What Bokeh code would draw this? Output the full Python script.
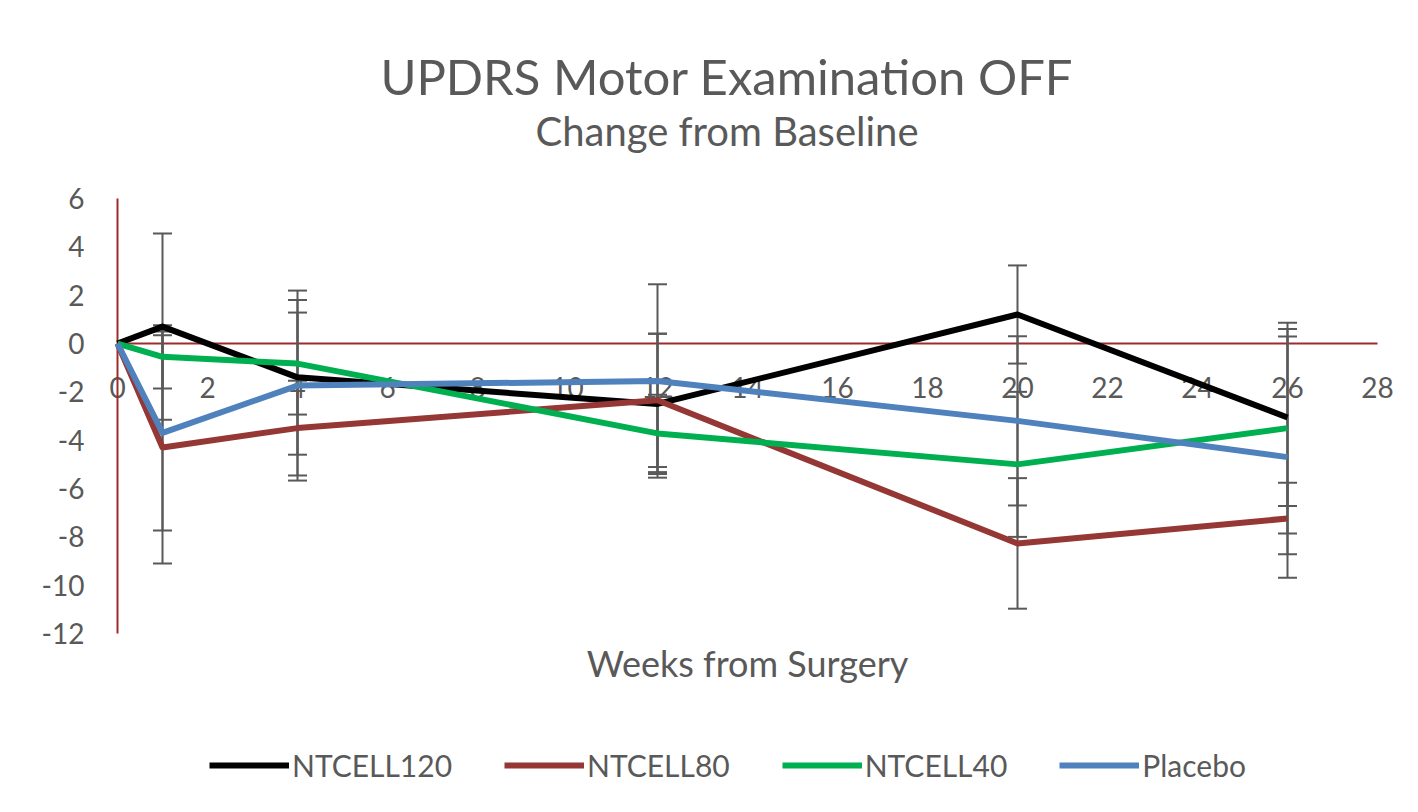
from bokeh.plotting import figure
from bokeh.models import (ColumnDataSource, Range1d, FixedTicker, Whisker, TeeHead,
                          Legend, LegendItem, LinearAxis, Label)
from bokeh.embed import file_html
from bokeh.resources import INLINE

weeks = [0, 1, 4, 12, 20, 26]
series_names = ["NTCELL120", "NTCELL80", "NTCELL40", "Placebo"]
ntcell120 = [0, 0.7, -1.4, -2.5, 1.2, -3.06]
ntcell80 = [0, -4.3, -3.5, -2.35, -8.27, -7.24]
ntcell40 = [0, -0.55, -0.83, -3.72, -5.0, -3.5]
placebo = [0, -3.7, -1.74, -1.55, -3.2, -4.7]
err120 = [0, 3.85, 3.2, 2.9, 2.03, 3.66]
err80 = [0, 4.8, 1.96, 2.76, 2.7, 1.48]
err40 = [0, 1.31, 2.11, 1.6, 3.0, 4.36]
errpl = [0, 4.04, 3.93, 4.0, 3.5, 4.99]
x_ticks = list(range(0, 29, 2))
y_ticks = list(range(-12, 7, 2))
title_text = "UPDRS Motor Examination OFF"
subtitle_text = "Change from Baseline"
x_title = "Weeks from Surgery"

colors = ["#000000", "#953735", "#00B050", "#4F81BD"]
values = [ntcell120, ntcell80, ntcell40, placebo]
errors = [err120, err80, err40, errpl]

FONT = "Lato"
GRAY = "#595959"
AXRED = "#A02B2B"

X_MIN, X_MAX = x_ticks[0], x_ticks[-1]
Y_MIN, Y_MAX = y_ticks[0], y_ticks[-1]

# frame spans the whole chart height; titles, axis title and legend live inside it
p = figure(width=1402, height=796, output_backend="svg", toolbar_location=None,
           x_range=Range1d(X_MIN - 0.4, X_MAX + 0.4), y_range=Range1d(-18.74, 14.19),
           min_border_left=99, min_border_right=7, min_border_top=0,
           min_border_bottom=0, title=None)
p.outline_line_color = None
p.grid.visible = False
p.background_fill_color = "white"
p.border_fill_color = "white"

tick_style = dict(major_tick_line_color=None, minor_tick_line_color=None,
                  major_tick_out=0, major_tick_in=0)

# x axis crossing at y = 0
xa = p.xaxis[0]
xa.fixed_location = 0
xa.bounds = (X_MIN, X_MAX)
xa.axis_line_color = AXRED
xa.axis_line_width = 2
xa.ticker = FixedTicker(ticks=x_ticks)
xa.major_label_text_font = FONT
xa.major_label_text_font_size = "28px"
xa.major_label_text_color = GRAY
xa.major_label_standoff = 33
xa.level = "underlay"
for k, v in tick_style.items():
    setattr(xa, k, v)

# y labels on the frame edge, no line
ya = p.yaxis[0]
ya.axis_line_color = None
ya.bounds = (Y_MIN, Y_MAX)
ya.ticker = FixedTicker(ticks=y_ticks)
ya.major_label_overrides = {t: str(t) for t in y_ticks}
ya.major_label_text_font = FONT
ya.major_label_text_font_size = "28px"
ya.major_label_text_color = GRAY
ya.major_label_standoff = 15
for k, v in tick_style.items():
    setattr(ya, k, v)

# vertical red axis line at x = 0
ya2 = LinearAxis(fixed_location=0, bounds=(Y_MIN, Y_MAX), axis_line_color=AXRED,
                 axis_line_width=2, major_label_text_color=None,
                 ticker=FixedTicker(ticks=y_ticks), level="underlay", **tick_style)
p.add_layout(ya2, "left")

renderers = []
for name, vals, col in zip(series_names, values, colors):
    src = ColumnDataSource(dict(x=weeks, y=vals))
    r = p.line("x", "y", source=src, line_color=col, line_width=6, line_join="round")
    renderers.append(r)

for vals, errs in zip(values, errors):
    xs = weeks[1:]
    up = [v + e for v, e in zip(vals[1:], errs[1:])]
    lo = [v - e for v, e in zip(vals[1:], errs[1:])]
    esrc = ColumnDataSource(dict(base=xs, upper=up, lower=lo))
    w = Whisker(source=esrc, base="base", upper="upper", lower="lower",
                line_color=GRAY, line_width=2,
                upper_head=TeeHead(size=19, line_color=GRAY, line_width=2),
                lower_head=TeeHead(size=19, line_color=GRAY, line_width=2))
    p.add_layout(w)

# titles
p.add_layout(Label(x=627.5, y=721, x_units="screen", y_units="screen", text=title_text,
                   text_align="center", text_baseline="middle", text_font=FONT,
                   text_font_size="49px", text_color=GRAY))
p.add_layout(Label(x=627.5, y=666, x_units="screen", y_units="screen", text=subtitle_text,
                   text_align="center", text_baseline="middle", text_font=FONT,
                   text_font_size="40px", text_color=GRAY))

# axis title
p.add_layout(Label(x=(X_MIN + X_MAX) / 2, y=134, y_units="screen", text=x_title,
                   text_align="center", text_baseline="middle", text_font=FONT,
                   text_font_size="36px", text_color=GRAY))

legend = Legend(items=[LegendItem(label=n, renderers=[r]) for n, r in zip(series_names, renderers)],
                orientation="horizontal", location=(110, 13),
                label_text_font=FONT, label_text_font_size="30px", label_text_color=GRAY,
                glyph_width=80, glyph_height=20, spacing=52, label_standoff=3,
                border_line_color=None, background_fill_alpha=0)
p.add_layout(legend, "center")

open("out.html", "w").write(file_html(p, INLINE))
